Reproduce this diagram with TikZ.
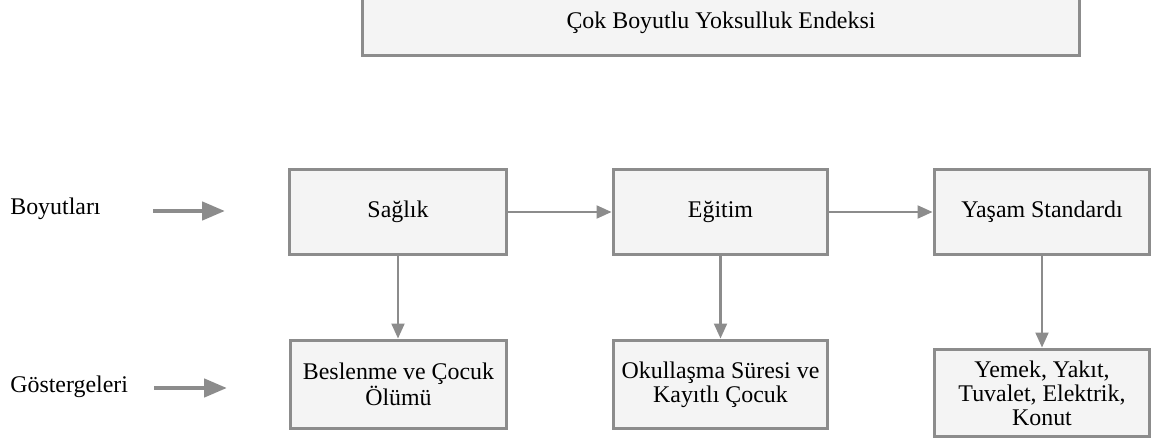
\documentclass[tikz,border=0pt]{standalone}
\usepackage{fontspec}
\setmainfont{Liberation Serif}
\usetikzlibrary{arrows.meta,positioning}
\definecolor{boxgray}{HTML}{8C8C8C}
\definecolor{boxfill}{HTML}{F4F4F4}
\tikzstyle{block} = [rectangle, draw=boxgray, fill=boxfill, line width=1.7pt,
    align=center, minimum width=4.32cm, minimum height=1.74cm]
\tikzstyle{link} = [-{Triangle[length=0.3cm,width=0.26cm]}, draw=boxgray, line width=1.2pt]
\tikzstyle{pointer} = [-{Triangle[length=0.46cm,width=0.36cm]}, draw=boxgray, line width=2.6pt]

\begin{document}
\begin{tikzpicture}[x=0.02cm,y=-0.02cm,font=\fontsize{13.6}{13.7}\selectfont]
  \useasboundingbox (0,0) rectangle (1153,442);

  \node[block,minimum width=14.36cm,minimum height=1.3cm] (mpi) at (721,23) {Çok Boyutlu Yoksulluk Endeksi};

  % boyutlar
  \node[block,minimum width=4.36cm,minimum height=1.72cm] (saglik) at (398,212) {Sağlık};
  \node[block,minimum width=4.3cm,minimum height=1.72cm]  (egitim) at (720.5,212) {Eğitim};
  \node[block,minimum width=4.32cm,minimum height=1.72cm] (yasam)  at (1042,212) {Yaşam Standardı};

  % göstergeler
  \node[block,minimum height=1.78cm] (beslenme) at (398.5,384.5) {Beslenme ve Çocuk\\Ölümü};
  \node[block,minimum width=4.3cm,minimum height=1.78cm] (okul) at (720.5,384.5) {Okullaşma Süresi ve\\Kayıtlı Çocuk};
  \node[block,minimum height=1.76cm] (yemek) at (1042,393) {Yemek, Yakıt,\\Tuvalet, Elektrik,\\Konut};

  \node[anchor=west,inner sep=0pt] (boyut) at (10,209) {Boyutları};
  \node[anchor=west,inner sep=0pt] (gosterge) at (10,387) {Göstergeleri};
  \coordinate (b1) at (153,211);  \coordinate (b2) at (225,211);
  \coordinate (g1) at (154,388);  \coordinate (g2) at (227,388);

  \draw[pointer] (b1) -- (b2);
  \draw[pointer] (g1) -- (g2);
  \draw[link] (saglik) -- (egitim);
  \draw[link] (egitim) -- (yasam);
  \draw[link] (saglik.south) -- (saglik.south |- beslenme.north);
  \draw[link] (egitim.south) -- (egitim.south |- okul.north);
  \draw[link] (yasam.south) -- (yasam.south |- yemek.north);
\end{tikzpicture}
\end{document}
